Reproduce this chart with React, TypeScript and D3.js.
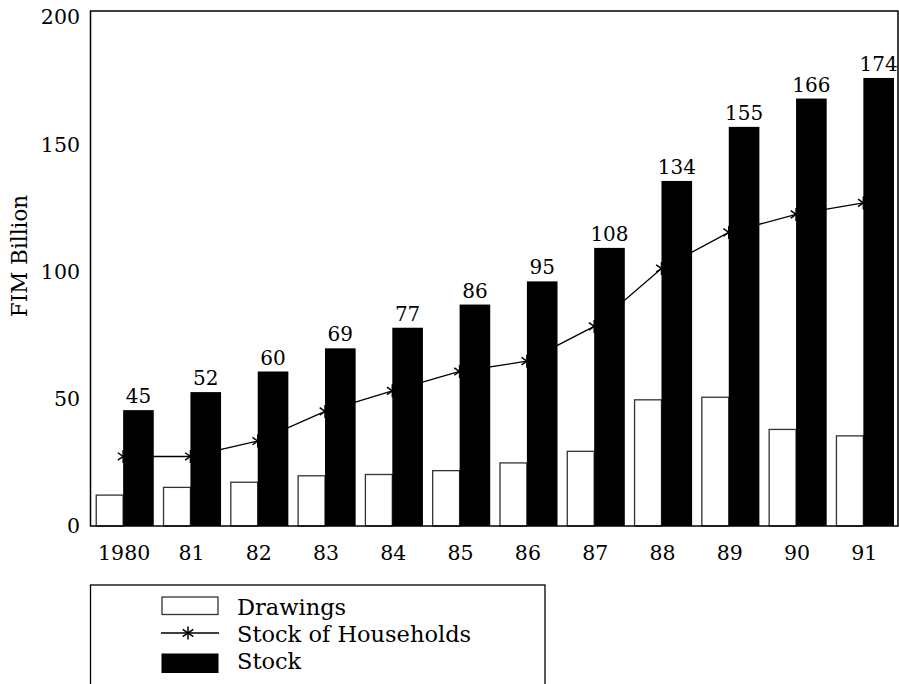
import React from "react";
import * as d3 from "d3";

const years = ["1980", "81", "82", "83", "84", "85", "86", "87", "88", "89", "90", "91"];
const drawings = [12, 15, 17, 19.5, 20, 21.5, 24.5, 29, 49, 50, 37.5, 35];
const households = [27, 27, 33, 44.5, 52.5, 60, 64, 77.5, 100, 114, 121, 125.5];
const stock = [45, 52, 60, 69, 77, 86, 95, 108, 134, 155, 166, 174];
const yTicks = [0, 50, 100, 150, 200];
const legendLabels = ["Drawings", "Stock of Households", "Stock"];

const FONT = "DejaVu Serif, Liberation Serif, serif";

function Asterisk({ cx, cy, r }: { cx: number; cy: number; r: number }) {
  const angles = [90, 35, 145];
  return (
    <g stroke="#000" strokeWidth={1.5}>
      {angles.map((a) => {
        const rad = (a * Math.PI) / 180;
        const dx = Math.cos(rad) * r;
        const dy = Math.sin(rad) * r;
        return <line key={a} x1={cx - dx} y1={cy - dy} x2={cx + dx} y2={cy + dy} />;
      })}
    </g>
  );
}

export default function App() {
  const W = 899;
  const H = 684;
  const left = 90.5;
  const right = 898;
  const top = 11;
  const bottom = 526;

  const x = d3.scaleBand<string>().domain(years).range([left, right]);
  const y = d3.scaleLinear().domain([0, 200]).range([bottom, top]);
  const bw = x.bandwidth();
  const cx = (d: string) => (x(d) as number) + bw / 2 - 1;
  const wW = bw * 0.4;
  const bW = bw * 0.455;

  const line = d3
    .line<number>()
    .x((_, i) => cx(years[i]))
    .y((v) => y(v));

  return (
    <svg width={W} height={H} style={{ position: "absolute", left: 0, top: 0, background: "#fff", fontFamily: FONT }}>
      <path d={line(households) || ""} fill="none" stroke="#000" strokeWidth={1.3} />
      {households.map((v, i) => (
        <Asterisk key={i} cx={cx(years[i])} cy={y(v)} r={6.5} />
      ))}
      {drawings.map((v, i) => (
        <rect
          key={"w" + i}
          x={cx(years[i]) - wW}
          y={y(v)}
          width={wW}
          height={bottom - y(v)}
          fill="#fff"
          stroke="#333"
          strokeWidth={1.3}
        />
      ))}
      {stock.map((v, i) => (
        <rect key={"b" + i} x={cx(years[i])} y={y(v)} width={bW} height={bottom - y(v)} fill="#000" />
      ))}
      {stock.map((v, i) => (
        <text key={"t" + i} x={cx(years[i]) + bW / 2} y={y(v) - 7} textAnchor="middle" fontSize={20} fill="#000">
          {v}
        </text>
      ))}
      <rect x={left} y={top} width={right - left} height={bottom - top} fill="none" stroke="#000" strokeWidth={1.5} />
      {yTicks.map((t) => (
        <text key={t} x={80} y={y(t) + (6 * t) / 200} dy="0.36em" textAnchor="end" fontSize={20.5} fill="#000">
          {t}
        </text>
      ))}
      {years.map((d) => (
        <text key={d} x={(x(d) as number) + bw / 2} y={560} textAnchor="middle" fontSize={20.5} fill="#000">
          {d}
        </text>
      ))}
      <text transform={`translate(27,256) rotate(-90)`} textAnchor="middle" fontSize={21.5} fill="#000">
        FIM Billion
      </text>
      <rect x={90.5} y={585} width={454.5} height={200} fill="none" stroke="#000" strokeWidth={1.3} />
      <rect x={162} y={597} width={56} height={17.5} fill="#fff" stroke="#333" strokeWidth={1.3} />
      <line x1={161} y1={633} x2={219} y2={633} stroke="#000" strokeWidth={1.3} />
      <Asterisk cx={188} cy={633} r={6.5} />
      <rect x={161.5} y={653.5} width={57} height={19.5} fill="#000" />
      {legendLabels.map((l, i) => (
        <text key={l} x={237} y={615 + i * 27} fontSize={22.5} fill="#000">
          {l}
        </text>
      ))}
    </svg>
  );
}
